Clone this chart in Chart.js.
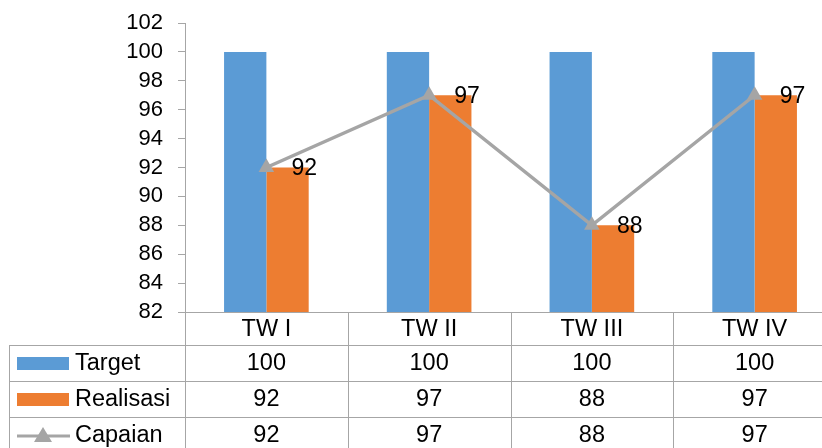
<!DOCTYPE html>
<html>
<head>
<meta charset="utf-8">
<script src="https://cdn.jsdelivr.net/npm/chart.js@4"></script>
<style>
  html, body { margin: 0; padding: 0; background: #fff; overflow: hidden; }
  #wrap { width: 845px; height: 448px; }
</style>
</head>
<body>
<div id="wrap"><canvas id="c" width="845" height="448"></canvas></div>
<script>
// --- data ---
const categories = ['TW I', 'TW II', 'TW III', 'TW IV'];
const targetVals = [100, 100, 100, 100];
const realisasiVals = [92, 97, 88, 97];
const capaianVals = [92, 97, 88, 97];
const yTicks = [82, 84, 86, 88, 90, 92, 94, 96, 98, 100, 102];

const FONT = '"Liberation Sans", Arial, sans-serif';
const BLUE = '#5B9BD5';
const ORANGE = '#ED7D31';
const GRAY = '#A5A5A5';
const LINE_COL = '#A6A6A6';

// labels next to the line points
const pointLabels = {
    id: 'pointLabels',
    afterDatasetsDraw(chart) {
        const ctx = chart.ctx;
        const meta = chart.getDatasetMeta(0);
        ctx.save();
        ctx.font = '23px ' + FONT;
        ctx.fillStyle = '#000';
        ctx.textBaseline = 'middle';
        ctx.textAlign = 'left';
        meta.data.forEach((pt, i) => {
            ctx.fillText(String(capaianVals[i]), pt.x + 25, pt.y + 1);
        });
        ctx.restore();
    }
};

// data table under the plot
const dataTable = {
    id: 'dataTable',
    afterDraw(chart) {
        const ctx = chart.ctx;
        const area = chart.chartArea;
        const x = chart.scales.x;
        const w = x.getPixelForValue(1) - x.getPixelForValue(0);
        const left = area.left;
        const top = area.bottom;
        const rowH = 36;
        const headH = 33;
        const tableLeft = 9;
        const bottom = chart.height + 10;
        const rows = [
            { name: 'Target', vals: targetVals, kind: 'bar', color: BLUE },
            { name: 'Realisasi', vals: realisasiVals, kind: 'bar', color: ORANGE },
            { name: 'Capaian', vals: capaianVals, kind: 'line', color: GRAY }
        ];
        ctx.save();
        ctx.strokeStyle = LINE_COL;
        ctx.lineWidth = 1;
        ctx.beginPath();
        // axis line
        ctx.moveTo(left - 7, top + 0.5);
        ctx.lineTo(chart.width, top + 0.5);
        // vertical separators
        for (let i = 0; i <= categories.length; i++) {
            const px = Math.round(left + i * w) + 0.5;
            ctx.moveTo(px, top);
            ctx.lineTo(px, bottom);
        }
        // left border
        ctx.moveTo(tableLeft + 0.5, top + headH);
        ctx.lineTo(tableLeft + 0.5, bottom);
        // row lines
        for (let r = 0; r < rows.length; r++) {
            const py = Math.round(top + headH + r * rowH) + 0.5;
            ctx.moveTo(tableLeft, py);
            ctx.lineTo(chart.width, py);
        }
        ctx.stroke();

        ctx.font = '23.5px ' + FONT;
        ctx.fillStyle = '#000';
        ctx.textBaseline = 'middle';
        ctx.textAlign = 'center';
        categories.forEach((c, i) => {
            ctx.fillText(c, x.getPixelForValue(i), top + headH / 2 + 1);
        });
        rows.forEach((row, r) => {
            const cy = top + headH + r * rowH + rowH / 2 + 1;
            ctx.textAlign = 'center';
            ctx.fillStyle = '#000';
            row.vals.forEach((v, i) => {
                ctx.fillText(String(v), x.getPixelForValue(i), cy);
            });
            // legend key
            if (row.kind === 'bar') {
                ctx.fillStyle = row.color;
                ctx.fillRect(17, cy - 7, 52, 13);
            } else {
                ctx.strokeStyle = row.color;
                ctx.lineWidth = 3;
                ctx.beginPath();
                ctx.moveTo(17, cy);
                ctx.lineTo(70, cy);
                ctx.stroke();
                ctx.fillStyle = row.color;
                ctx.beginPath();
                ctx.moveTo(43, cy - 9);
                ctx.lineTo(52, cy + 6);
                ctx.lineTo(34, cy + 6);
                ctx.closePath();
                ctx.fill();
            }
            ctx.fillStyle = '#000';
            ctx.textAlign = 'left';
            ctx.fillText(row.name, 75, cy);
        });
        ctx.restore();
    }
};

new Chart(document.getElementById('c'), {
    type: 'bar',
    data: {
        labels: categories,
        datasets: [
            {
                type: 'line',
                label: 'Capaian',
                data: capaianVals,
                borderColor: GRAY,
                backgroundColor: GRAY,
                borderWidth: 3.5,
                pointStyle: 'triangle',
                pointRadius: 9,
                pointBorderWidth: 0,
                tension: 0,
                order: 0
            },
            {
                label: 'Target',
                data: targetVals,
                backgroundColor: BLUE,
                order: 1
            },
            {
                label: 'Realisasi',
                data: realisasiVals,
                backgroundColor: ORANGE,
                order: 1
            }
        ]
    },
    options: {
        responsive: false,
        animation: false,
        categoryPercentage: 0.52,
        barPercentage: 1,
        layout: { padding: { top: 23, bottom: 136, right: 0, left: 0 } },
        plugins: {
            legend: { display: false },
            tooltip: { enabled: false }
        },
        scales: {
            x: {
                display: false
            },
            y: {
                min: 82,
                max: 102,
                afterBuildTicks: (s) => { s.ticks = yTicks.map(v => ({ value: v })); },
                afterFit: (s) => {
                    s.width = 185;
                    s.paddingTop = 0;
                    s.paddingBottom = 0;
                },
                grid: {
                    drawOnChartArea: false,
                    drawTicks: true,
                    tickLength: 7,
                    color: LINE_COL
                },
                border: { color: LINE_COL },
                ticks: {
                    color: '#000',
                    padding: 15,
                    autoSkip: false,
                    font: { family: FONT, size: 22 }
                }
            }
        }
    },
    plugins: [pointLabels, dataTable]
});
</script>
</body>
</html>
